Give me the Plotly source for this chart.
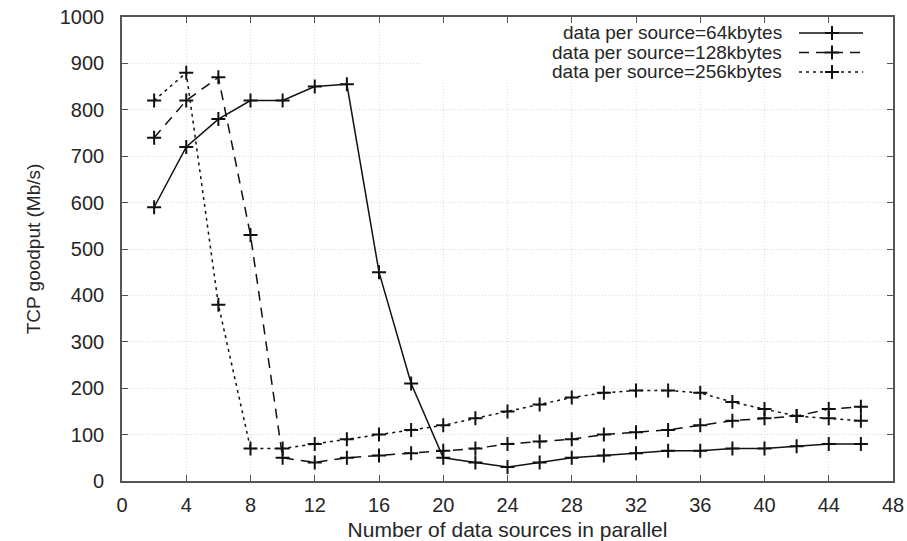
import plotly.graph_objects as go

# ---------------- data ----------------
x_sources = [2, 4, 6, 8, 10, 12, 14, 16, 18, 20, 22, 24, 26, 28, 30, 32, 34, 36, 38, 40, 42, 44, 46]
goodput_64k = [590, 720, 780, 820, 820, 850, 855, 450, 210, 50, 40, 30, 40, 50, 55, 60, 65, 65, 70, 70, 75, 80, 80]
goodput_128k = [740, 820, 870, 530, 50, 40, 50, 55, 60, 65, 70, 80, 85, 90, 100, 105, 110, 120, 130, 135, 140, 155, 160]
goodput_256k = [820, 880, 380, 70, 70, 80, 90, 100, 110, 120, 135, 150, 165, 180, 190, 195, 195, 190, 170, 155, 140, 135, 130]
series_names = ["data per source=64kbytes", "data per source=128kbytes", "data per source=256kbytes"]
x_ticks = list(range(0, 49, 4))
y_ticks = list(range(0, 1001, 100))
x_title = "Number of data sources in parallel"
y_title = "TCP goodput (Mb/s)"

# ---------------- style ----------------
W, H = 907, 541
L, R, T, B = 122, 14, 17, 60
INK = "#111111"
TXT = "#262626"
FONT = "Liberation Sans, Arial, sans-serif"
dashes = ["solid", "10px,7px", "3px,4px"]
series = [goodput_64k, goodput_128k, goodput_256k]
MARK = dict(symbol="cross-thin", size=10, line=dict(color=INK, width=2))

fig = go.Figure()
for name, ys, dash in zip(series_names, series, dashes):
    fig.add_trace(go.Scatter(
        x=x_sources, y=ys, mode="lines+markers", name=name,
        line=dict(color=INK, width=1.5, dash=dash),
        marker=MARK, showlegend=False, xaxis="x", yaxis="y", cliponaxis=False,
    ))

# legend (gnuplot style: text right-aligned, sample to the right)
pw, ph = W - L - R, H - T - B
def px_x(p):
    return (p - L) / pw
def px_y(p):
    return (H - B - p) / ph

row_y = [33, 52.5, 72]
text_right = 783
samp_x0, samp_x1, samp_mid = 799, 863, 832
annotations = []
for name, dash, ry in zip(series_names, dashes, row_y):
    annotations.append(dict(
        x=px_x(text_right), y=px_y(ry), xref="paper", yref="paper",
        text=name, showarrow=False, xanchor="right", yanchor="middle",
        borderpad=0, font=dict(family=FONT, size=19, color=TXT),
    ))
    fig.add_trace(go.Scatter(
        x=[px_x(samp_x0), px_x(samp_x1)], y=[px_y(ry)] * 2, mode="lines",
        line=dict(color=INK, width=1.5, dash=dash), showlegend=False,
        xaxis="x2", yaxis="y2", hoverinfo="skip", cliponaxis=False,
    ))
    fig.add_trace(go.Scatter(
        x=[px_x(samp_mid)], y=[px_y(ry)], mode="markers", marker=MARK,
        showlegend=False, xaxis="x2", yaxis="y2", hoverinfo="skip", cliponaxis=False,
    ))

axis_common = dict(
    showline=True, linecolor="#555555", linewidth=1.6, mirror="ticks",
    ticks="inside", ticklen=6, tickwidth=1.2, tickcolor="#555555",
    showgrid=True, gridcolor="#d9d9d9", gridwidth=1, griddash="1px,2px",
    zeroline=False, automargin=False,
    tickfont=dict(family=FONT, size=20, color=TXT),
)

fig.update_layout(
    width=W, height=H, margin=dict(l=L, r=R, t=T, b=B),
    paper_bgcolor="white", plot_bgcolor="white",
    xaxis=dict(range=[0, 48], tickvals=x_ticks, autorange=False,
               title=dict(text=x_title, font=dict(family=FONT, size=21, color=TXT), standoff=8),
               ticklabelstandoff=5, **axis_common),
    yaxis=dict(range=[0, 1000], tickvals=y_ticks, autorange=False,
               title=dict(text=y_title, font=dict(family=FONT, size=19, color=TXT), standoff=14),
               ticklabelstandoff=12, **axis_common),
    xaxis2=dict(range=[0, 1], overlaying="x", visible=False, autorange=False),
    yaxis2=dict(range=[0, 1], overlaying="y", visible=False, autorange=False),
    annotations=annotations,
    shapes=[dict(type="rect", xref="x", yref="y", x0=18.7, x1=48, y0=860, y1=1000,
                 fillcolor="white", line=dict(width=0), layer="between")],
    showlegend=False,
)

fig.write_html("out.html")
